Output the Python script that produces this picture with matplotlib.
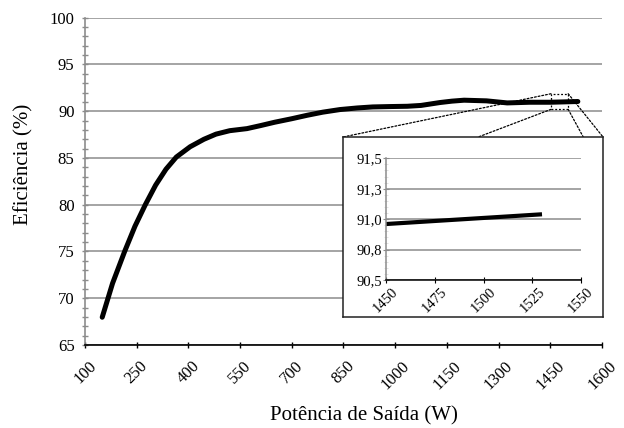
import matplotlib.pyplot as plt
from matplotlib.patches import ConnectionPatch, Rectangle
from matplotlib.ticker import MultipleLocator

plt.rcParams['font.family'] = ['Liberation Serif', 'DejaVu Serif']

# output power (W) and efficiency (%)
potencia = [150, 180, 215, 245, 275, 305, 335, 365, 405, 445, 480, 520, 570,
            610, 650, 700, 745, 790, 840, 890, 935, 985, 1035, 1075, 1130,
            1165, 1200, 1265, 1325, 1390, 1450, 1530]
eficiencia = [67.97, 71.6, 75.0, 77.7, 80.0, 82.1, 83.8, 85.1, 86.2, 87.0,
              87.55, 87.92, 88.14, 88.47, 88.82, 89.2, 89.57, 89.9, 90.18,
              90.35, 90.46, 90.5, 90.53, 90.62, 90.93, 91.08, 91.18, 91.11,
              90.89, 90.96, 90.96, 91.04]

xticks = [100, 250, 400, 550, 700, 850, 1000, 1150, 1300, 1450, 1600]
yticks = [65, 70, 75, 80, 85, 90, 95, 100]

zoom_xticks = [1450, 1475, 1500, 1525, 1550]
zoom_yticks = [90.5, 90.75, 91.0, 91.25, 91.5]
zoom_ylabels = ['90,5', '90,8', '91,0', '91,3', '91,5']

grid_c = '#8c8c8c'

fig = plt.figure(figsize=(6.24, 4.28), dpi=100)
ax = fig.add_axes([0.1362, 0.1939, 0.8285, 0.7647])

ax.plot(potencia, eficiencia, color='black', lw=3.6, solid_capstyle='round',
        solid_joinstyle='round', zorder=3)
ax.set_xlim(100, 1600)
ax.set_ylim(65, 100)
ax.set_xticks(xticks)
ax.set_yticks(yticks)
ax.yaxis.set_minor_locator(MultipleLocator(1))
ax.grid(axis='y', color=grid_c, lw=1.1)
ax.set_axisbelow(True)
for s in ['top', 'right']:
    ax.spines[s].set_visible(False)
ax.spines['left'].set_color(grid_c)
ax.spines['left'].set_linewidth(1.2)
ax.spines['bottom'].set_color('black')
ax.spines['bottom'].set_linewidth(1.2)
ax.tick_params(axis='y', which='both', direction='inout', color=grid_c,
               length=5, width=1, labelsize=12, pad=5)
ax.tick_params(axis='x', direction='inout', color='black', length=5, width=1,
               labelsize=12, pad=7)
for lab in ax.get_xticklabels():
    lab.set_rotation(45)
    lab.set_ha('center')
    lab.set_va('top')

# axis titles, placed as in the original chart
fig.text(364 / 624, 1 - 416 / 428, 'Potência de Saída (W)', fontsize=15,
         ha='center', va='center')
fig.text(24 / 624, 1 - 164 / 428, 'Eficiência (%)', fontsize=15,
         rotation=90, ha='center', va='center')

# dotted region that is enlarged
ax.add_patch(Rectangle((1452, 90.2), 50, 1.67, fill=False, ls=(0, (1.5, 1.5)),
                       lw=0.9, color='black', zorder=4))

# inset frame
frame = fig.add_axes([0.5497, 0.2593, 0.4167, 0.4206])
frame.set_xticks([])
frame.set_yticks([])
for s in frame.spines.values():
    s.set_color('#222222')
    s.set_linewidth(1.1)
frame.set_zorder(5)

ins = fig.add_axes([0.6186, 0.3458, 0.3125, 0.2843])
ins.set_zorder(6)
ins.patch.set_alpha(0)
ins.plot(potencia, eficiencia, color='black', lw=3, solid_capstyle='butt')
ins.set_xlim(1450, 1550)
ins.set_ylim(90.5, 91.5)
ins.set_xticks(zoom_xticks)
ins.set_yticks(zoom_yticks)
ins.set_yticklabels(zoom_ylabels)
ins.yaxis.set_minor_locator(MultipleLocator(0.05))
ins.grid(axis='y', color=grid_c, lw=1.1)
ins.set_axisbelow(True)
for s in ['top', 'right']:
    ins.spines[s].set_visible(False)
ins.spines['left'].set_color(grid_c)
ins.spines['left'].set_linewidth(1.1)
ins.spines['bottom'].set_color('black')
ins.spines['bottom'].set_linewidth(1.1)
ins.tick_params(axis='y', which='major', direction='inout', color=grid_c,
                length=4, labelsize=10.5, pad=1)
ins.tick_params(axis='y', which='minor', direction='inout', color='#dddddd',
                length=3)
ins.tick_params(axis='x', direction='inout', length=4, labelsize=10.5, pad=2)
for lab in ins.get_xticklabels():
    lab.set_rotation(45)
    lab.set_ha('center')
    lab.set_va('top')

# dotted connector lines
links = [((1452, 91.87), (0.0, 1.0)), ((1452, 90.2), (0.52, 1.0)),
         ((1502, 90.2), (0.924, 1.0)), ((1502, 91.87), (1.0, 1.0))]
for a, b in links:
    con = ConnectionPatch(xyA=a, coordsA=ax.transData, xyB=b,
                          coordsB=frame.transAxes, ls=(0, (1.5, 1.5)),
                          lw=0.9, color='black')
    fig.add_artist(con)

fig.savefig('out.png', dpi=100)
